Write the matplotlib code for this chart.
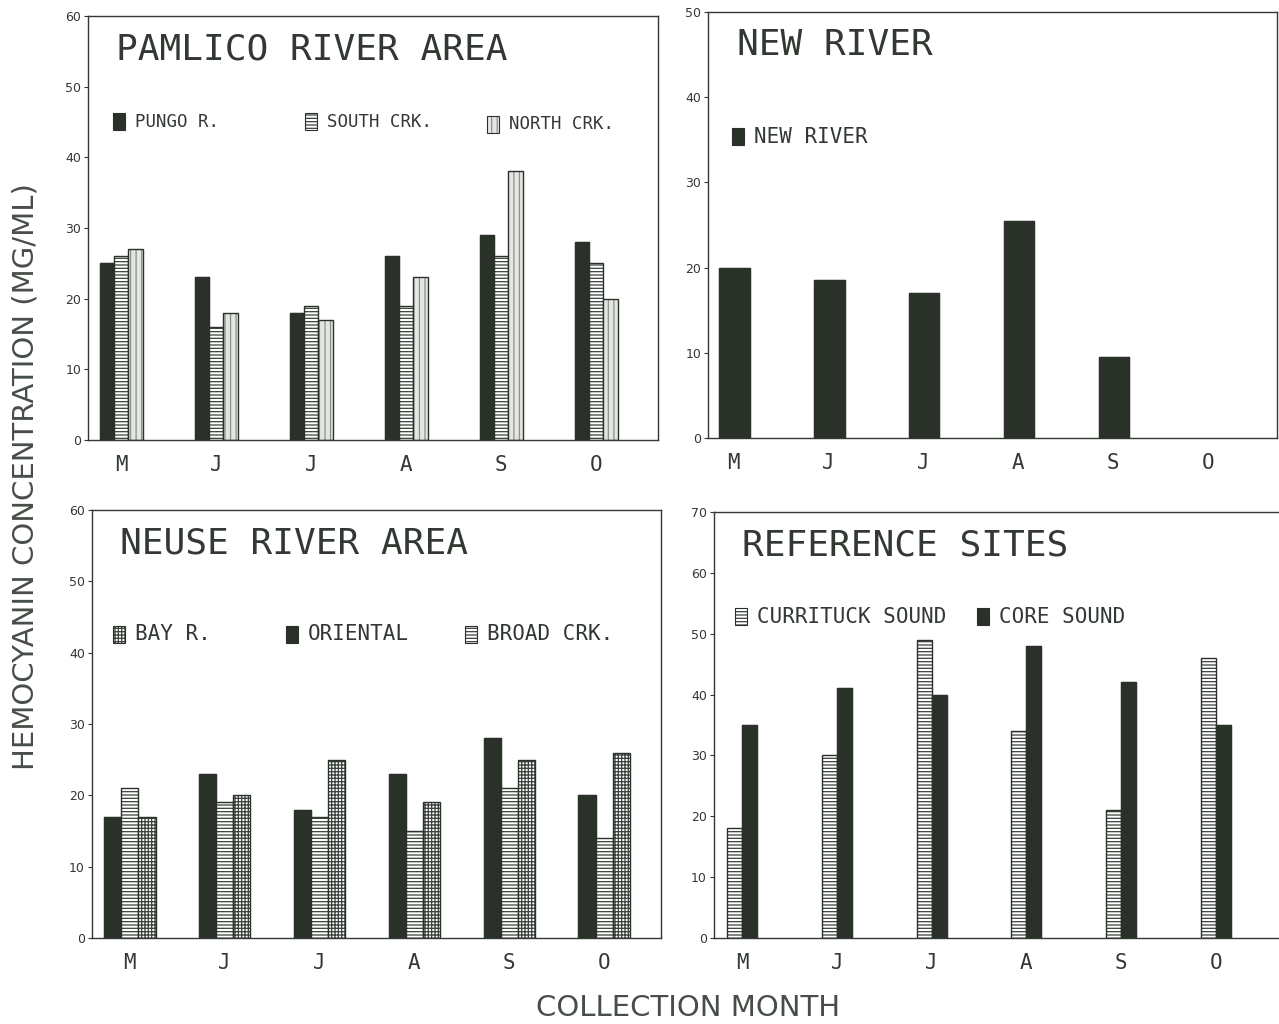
import numpy as np
import matplotlib
matplotlib.use('Agg')
import matplotlib.pyplot as plt
from matplotlib.patches import Rectangle

months = ['M', 'J', 'J', 'A', 'S', 'O']

# Pamlico River area
pungo = [25, 23, 18, 26, 29, 28]
south_crk = [26, 16, 19, 19, 26, 25]
north_crk = [27, 18, 17, 23, 38, 20]

# New River (no October sample)
new_river = [20, 18.5, 17, 25.5, 9.5, np.nan]

# Neuse River area
oriental = [17, 23, 18, 23, 28, 20]
broad_crk = [21, 19, 17, 15, 21, 14]
bay_r = [17, 20, 25, 19, 25, 26]

# Reference sites
currituck = [18, 30, 49, 34, 21, 46]
core_sound = [35, 41, 40, 48, 42, 35]

DARK = '#2a3129'
INK = '#323832'
plt.rcParams['hatch.linewidth'] = 0.9

mono = 'DejaVu Sans Mono'

styles = {
    'dark': dict(color=DARK, edgecolor=DARK, hatch=None),
    'horiz': dict(color='white', edgecolor='#3a413a', hatch='-----'),
    'vert': dict(color='#e4e6e2', edgecolor='#8a908a', hatch='|||'),
    'grid': dict(color='white', edgecolor='#3a413a', hatch='+++++'),
}


def draw_bars(ax, x, vals, width, style):
    s = styles[style]
    ax.bar(x, vals, width, color=s['color'], edgecolor=s['edgecolor'],
           hatch=s['hatch'], linewidth=0 if s['hatch'] else 0.8, align='edge')
    ax.bar(x, vals, width, fill=False, edgecolor=DARK, linewidth=1.0,
           align='edge')


def key(ax, xf, yf, style, label, size):
    # little swatch + label, positioned in axes fraction
    s = styles[style]
    bb = ax.get_position()
    fw, fh = ax.figure.get_size_inches() * ax.figure.dpi
    w = 12 / (bb.width * fw)
    h = 17 / (bb.height * fh)
    ax.add_patch(Rectangle((xf, yf - h / 2), w, h, transform=ax.transAxes,
                           facecolor=s['color'], edgecolor=s['edgecolor'],
                           hatch=s['hatch'], linewidth=0, clip_on=False))
    ax.add_patch(Rectangle((xf, yf - h / 2), w, h, transform=ax.transAxes,
                           fill=False, edgecolor=DARK, linewidth=0.8,
                           clip_on=False))
    ax.text(xf + w + 10 / (bb.width * fw), yf, label, transform=ax.transAxes,
            family=mono, fontsize=size, color=INK, va='center', ha='left')


def setup(ax, ymax, title, x0, x1):
    ax.set_xlim(x0, x1)
    ax.set_ylim(0, ymax)
    ax.set_yticks(np.arange(0, ymax + 1, 10))
    ax.tick_params(axis='y', length=3, width=0.8, labelsize=9, pad=2,
                   colors=INK)
    ax.set_xticks(np.arange(len(months)))
    ax.set_xticklabels(months, family=mono, fontsize=15, color=INK)
    ax.tick_params(axis='x', length=0, pad=11)
    for sp in ax.spines.values():
        sp.set_color(INK)
        sp.set_linewidth(1.0)
    ax.text(0.05, 0.962, title, transform=ax.transAxes, family=mono,
            fontsize=26, color=INK, va='top', ha='left')


fig = plt.figure(figsize=(12.79, 10.24), dpi=100)
x = np.arange(len(months))

# top left: Pamlico
ax1 = fig.add_axes([0.0688, 0.5703, 0.4457, 0.4141])
w = 0.15
draw_bars(ax1, x - 1.5 * w, pungo, w, 'dark')
draw_bars(ax1, x - 0.5 * w, south_crk, w, 'horiz')
draw_bars(ax1, x + 0.5 * w, north_crk, w, 'vert')
setup(ax1, 60, 'PAMLICO RIVER AREA', -0.35, 5.65)
key(ax1, 0.044, 0.75, 'dark', 'PUNGO R.', 12.5)
key(ax1, 0.381, 0.75, 'horiz', 'SOUTH CRK.', 12.5)
key(ax1, 0.700, 0.745, 'vert', 'NORTH CRK.', 12.5)

# top right: New River
ax2 = fig.add_axes([0.5536, 0.5723, 0.4449, 0.416])
draw_bars(ax2, x - 0.15, new_river, 0.32, 'dark')
setup(ax2, 50, 'NEW RIVER', -0.27, 5.73)
key(ax2, 0.042, 0.707, 'dark', 'NEW RIVER', 15)

# bottom left: Neuse
ax3 = fig.add_axes([0.0719, 0.084, 0.4449, 0.418])
w = 0.18
draw_bars(ax3, x - 1.5 * w, oriental, w, 'dark')
draw_bars(ax3, x - 0.5 * w, broad_crk, w, 'horiz')
draw_bars(ax3, x + 0.5 * w, bay_r, w, 'grid')
setup(ax3, 60, 'NEUSE RIVER AREA', -0.4, 5.6)
key(ax3, 0.037, 0.71, 'grid', 'BAY R.', 15)
key(ax3, 0.341, 0.71, 'dark', 'ORIENTAL', 15)
key(ax3, 0.655, 0.71, 'horiz', 'BROAD CRK.', 15)

# bottom right: Reference sites
ax4 = fig.add_axes([0.5582, 0.084, 0.4441, 0.416])
w = 0.16
draw_bars(ax4, x - w, currituck, w, 'horiz')
draw_bars(ax4, x, core_sound, w, 'dark')
setup(ax4, 70, 'REFERENCE SITES', -0.3, 5.7)
key(ax4, 0.037, 0.754, 'horiz', 'CURRITUCK SOUND', 15)
key(ax4, 0.463, 0.754, 'dark', 'CORE SOUND', 15)

fig.text(0.02, 0.535, 'HEMOCYANIN CONCENTRATION (MG/ML)', rotation=90,
         ha='center', va='center', fontsize=21, color='#474d47')
fig.text(0.538, 0.002, 'COLLECTION MONTH', ha='center', va='bottom',
         fontsize=21, color='#474d47')

fig.savefig('out.png', dpi=100)
